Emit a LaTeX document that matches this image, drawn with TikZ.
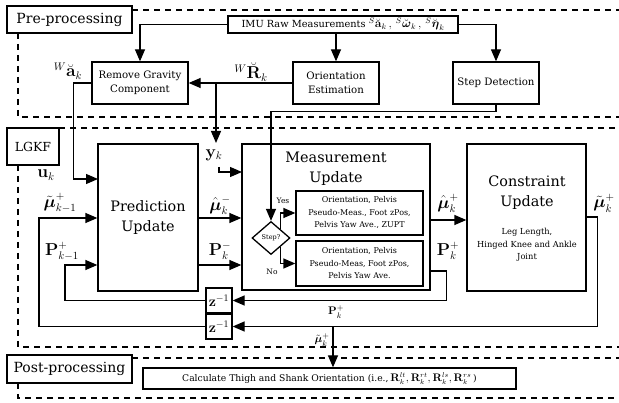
\documentclass[tikz,border=0pt]{standalone}
\usepackage{amsmath,amssymb}
\usepackage[no-math]{fontspec}
\setmainfont{DejaVu Serif}
\usetikzlibrary{arrows.meta,shapes.geometric}

\begin{document}
\begin{tikzpicture}
[
x=1pt, y=-1pt,
Block/.style={rectangle, draw=black, line width=1.3pt, inner sep=1pt, align=center, font=\fontsize{10.2}{14}\selectfont},
BigBlock/.style={rectangle, draw=black, line width=1.3pt, inner sep=1pt},
SubBlock/.style={rectangle, draw=black, line width=1.3pt, inner sep=1pt, align=center, font=\fontsize{8}{12.5}\selectfont},
RegionLabel/.style={rectangle, draw=black, line width=1.2pt, inner sep=1pt, font=\fontsize{14}{17}\selectfont},
Title/.style={align=center, font=\fontsize{14.4}{20}\selectfont},
SmallText/.style={align=center, font=\fontsize{8.3}{12.5}\selectfont},
Decision/.style={diamond, draw=black, line width=1.3pt, inner sep=0pt, minimum width=38pt, minimum height=33pt, font=\fontsize{6.5}{8}\selectfont},
Signal/.style={inner sep=0pt, font=\fontsize{16}{18}\selectfont},
SmallSignal/.style={inner sep=0pt, font=\fontsize{11}{13}\selectfont},
Tag/.style={inner sep=0pt, font=\fontsize{7.5}{9}\selectfont},
DashLine/.style={line width=1.2pt, dash pattern=on 6pt off 5pt},
Arrow/.style={line width=1.3pt, -{Triangle[length=12pt,width=10pt]}},
]
\useasboundingbox (0,0) rectangle (619,403);

% regions
\node[RegionLabel, minimum width=125pt, minimum height=27pt] (pre) at (69.5,19.5) {Pre-processing};
\node[RegionLabel, minimum width=52pt, minimum height=37pt, font=\fontsize{12.5}{15}\selectfont] (lgkf) at (33,146.5) {LGKF};
\node[RegionLabel, minimum width=125pt, minimum height=28pt] (post) at (69.5,369) {Post-processing};

\draw[DashLine] (132,10)--(619,10);
\draw[DashLine] (18,33)--(18,117)--(619,117);
\draw[DashLine] (59,128)--(619,128);
\draw[DashLine] (18,165)--(18,347)--(619,347);
\draw[DashLine] (132,358)--(619,358);
\draw[DashLine] (18,383)--(18,398)--(619,398);

% pre-processing blocks
\node[Block, minimum width=230pt, minimum height=17pt, inner sep=0pt, font=\fontsize{9.8}{11}\selectfont] (imu) at (343,24.5)
  {IMU Raw Measurements {\fontsize{12}{12}\selectfont$^{S}\breve{\mathbf{a}}_k\,,\,^{S}\breve{\boldsymbol{\omega}}_k\,,\,^{S}\breve{\boldsymbol{\eta}}_k$}};
\node[Block, minimum width=96pt, minimum height=42pt] (grav) at (140,83) {Remove Gravity\\Component};
\node[Block, minimum width=86pt, minimum height=42pt] (orient) at (336,83) {Orientation\\Estimation};
\node[Block, minimum width=86pt, minimum height=42pt] (stepdet) at (496,83) {Step Detection};

% filter blocks
\node[BigBlock, minimum width=100pt, minimum height=147pt] (pred) at (148,217.5) {};
\node[Title] (predtitle) at (148,218) {Prediction\\Update};
\node[BigBlock, minimum width=188pt, minimum height=146pt] (meas) at (336,217) {};
\node[Title] (meastitle) at (336,169) {Measurement\\Update};
\node[SubBlock, minimum width=127pt, minimum height=44pt] (yes) at (359.5,213) {Orientation, Pelvis\\Pseudo-Meas., Foot zPos,\\Pelvis Yaw Ave., ZUPT};
\node[SubBlock, minimum width=127pt, minimum height=45pt] (no) at (359.5,263.5) {Orientation, Pelvis\\Pseudo-Meas, Foot zPos,\\Pelvis Yaw Ave.};
\node[Decision] (step) at (271,238) {Step?};
\node[BigBlock, minimum width=119pt, minimum height=147pt] (cons) at (526.5,217.5) {};
\node[Title] (constitle) at (527,193) {Constraint\\Update};
\node[SmallText] (consnote) at (527,245) {Leg Length,\\Hinged Knee and Ankle\\Joint};
\node[BigBlock, minimum width=26pt, minimum height=25pt, font=\fontsize{14}{16}\selectfont] (zone) at (219,300.5) {$\mathbf{z}^{-1}$};
\node[BigBlock, minimum width=26pt, minimum height=25pt, font=\fontsize{14}{16}\selectfont] (ztwo) at (219,326.5) {$\mathbf{z}^{-1}$};

% post-processing block
\node[Block, minimum width=373pt, minimum height=21pt, font=\fontsize{9.2}{11}\selectfont] (calc) at (329.5,378.5)
  {Calculate Thigh and Shank Orientation (i.e.,{\fontsize{10.5}{11}\selectfont$\,\mathbf{R}_k^{lt},\mathbf{R}_k^{rt},\mathbf{R}_k^{ls},\mathbf{R}_k^{rs}\,$})};

% helper points
\coordinate (rbranch) at (216,83);
\coordinate (ykend) at (216,143);
\coordinate (ykcorner) at (219,167);
\coordinate (measin) at (242,172);
\coordinate (predin) at (98,179);
\coordinate (mubranch) at (333,326.5);

% pre-processing connections
\draw[Arrow] (imu.west) -| (grav.north);
\draw[Arrow] (imu.south -| orient.north) -- (orient.north);
\draw[Arrow] (imu.east) -| (stepdet.north);
\draw[Arrow] (orient.west) -- (grav.east);
\draw[Arrow] (rbranch) -- (ykend);
\draw[Arrow] (ykcorner) |- (measin);
\draw[Arrow] (grav.west) -- ++(-18,0) |- (predin);
\draw[Arrow] (stepdet.south) -- ++(0,7) -| (step.north);

% filter connections
\draw[Arrow] (step.north east) |- (yes.west);
\draw[Arrow] (step.south east) |- (no.west);
\draw[Arrow] (pred.east |- 0,218) -- (meas.west |- 0,218);
\draw[Arrow] (pred.east |- 0,265) -- (meas.west |- 0,265);
\draw[Arrow] (meas.east |- 0,220) -- (cons.west |- 0,220);
\draw[Arrow] (meas.east |- 0,271) -- ++(16,0) |- (zone.east);
\draw[Arrow] (cons.east |- 0,217) -- ++(11,0) |- (ztwo.east);
\draw[Arrow] (zone.west) -| (65,265) -- (pred.west |- 0,265);
\draw[Arrow] (ztwo.west) -| (39,218) -- (pred.west |- 0,218);
\draw[Arrow] (mubranch) -- (mubranch |- calc.north);

% signal labels
\node[Signal] (wr) at (251,72) {$^{W}\breve{\mathbf{R}}_k$};
\node[Signal] (wa) at (68,71) {$^{W}\breve{\mathbf{a}}_k$};
\node[Signal] (yk) at (214,155) {$\mathbf{y}_k$};
\node[Signal] (uk) at (46,175) {$\mathbf{u}_k$};
\node[Signal] (muprev) at (60,203) {$\tilde{\boldsymbol{\mu}}^{+}_{k-1}$};
\node[Signal] (pprev) at (62,251) {$\mathbf{P}^{+}_{k-1}$};
\node[Signal] (muminus) at (220,205) {$\hat{\boldsymbol{\mu}}^{-}_{k}$};
\node[Signal] (pminus) at (220,251) {$\mathbf{P}^{-}_{k}$};
\node[Signal] (muplus) at (448,203) {$\hat{\boldsymbol{\mu}}^{+}_{k}$};
\node[Signal] (pplus) at (448,251) {$\mathbf{P}^{+}_{k}$};
\node[Signal] (muout) at (604,203) {$\tilde{\boldsymbol{\mu}}^{+}_{k}$};
\node[SmallSignal] (pfeed) at (336,312) {$\mathbf{P}^{+}_{k}$};
\node[SmallSignal] (mufeed) at (322,340) {$\tilde{\boldsymbol{\mu}}^{+}_{k}$};
\node[Tag] (yestag) at (283,201) {Yes};
\node[Tag] (notag) at (272,272) {No};

\end{tikzpicture}
\end{document}
